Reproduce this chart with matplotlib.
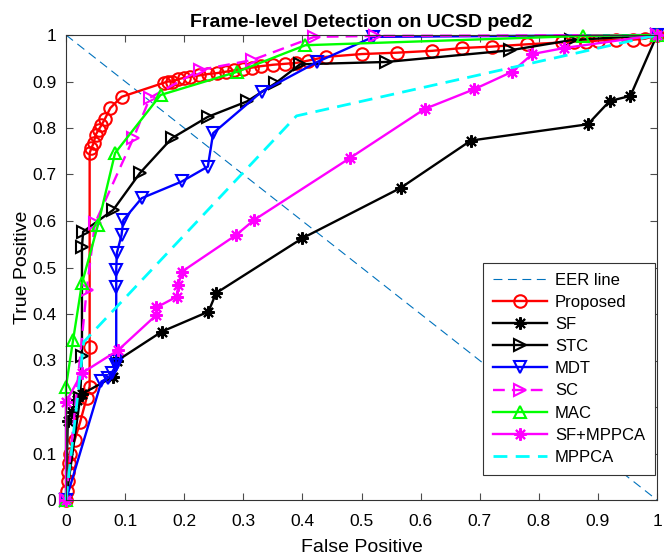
import numpy as np
import matplotlib.pyplot as plt

plt.rcParams['font.family'] = ['Liberation Sans', 'DejaVu Sans']

# ROC points (false positive, true positive)
proposed_fp = [0, 0.002, 0.003, 0.004, 0.005, 0.006, 0.015, 0.024, 0.035, 0.04, 0.04, 0.04,
               0.043, 0.047, 0.05, 0.055, 0.06, 0.066, 0.075, 0.094, 0.165, 0.172, 0.18, 0.19,
               0.2, 0.21, 0.225, 0.24, 0.255, 0.27, 0.285, 0.3, 0.315, 0.33, 0.35, 0.37, 0.39,
               0.41, 0.44, 0.5, 0.56, 0.62, 0.67, 0.72, 0.78, 0.84, 0.86, 0.88, 0.9, 0.93, 0.96,
               0.98, 1]
proposed_tp = [0, 0.02, 0.04, 0.06, 0.08, 0.1, 0.13, 0.168, 0.22, 0.244, 0.33, 0.746,
               0.757, 0.768, 0.785, 0.796, 0.806, 0.82, 0.843, 0.867, 0.897, 0.9, 0.9, 0.905,
               0.908, 0.91, 0.913, 0.916, 0.918, 0.921, 0.924, 0.927, 0.93, 0.933, 0.936, 0.938,
               0.94, 0.945, 0.953, 0.959, 0.962, 0.966, 0.972, 0.975, 0.98, 0.984, 0.986, 0.986,
               0.988, 0.99, 0.99, 0.992, 1]

sf_fp = [0, 0.003, 0.01, 0.018, 0.027, 0.08, 0.087, 0.162, 0.241, 0.254, 0.40, 0.566, 0.685,
         0.883, 0.92, 0.955, 1]
sf_tp = [0, 0.17, 0.19, 0.215, 0.228, 0.265, 0.3, 0.362, 0.405, 0.445, 0.563, 0.671, 0.773,
         0.808, 0.858, 0.869, 1]

stc_fp = [0, 0.024, 0.027, 0.027, 0.029, 0.08, 0.125, 0.179, 0.24, 0.306, 0.354, 0.396,
          0.542, 0.751, 0.855, 1]
stc_tp = [0, 0.22, 0.31, 0.545, 0.577, 0.624, 0.703, 0.778, 0.824, 0.857, 0.896, 0.937,
          0.942, 0.967, 0.989, 1]

mdt_fp = [0, 0.06, 0.071, 0.077, 0.085, 0.085, 0.085, 0.085, 0.086, 0.094, 0.097, 0.128,
          0.196, 0.24, 0.249, 0.331, 0.425, 0.52, 1]
mdt_tp = [0, 0.255, 0.262, 0.273, 0.29, 0.3, 0.459, 0.495, 0.531, 0.57, 0.602, 0.649,
          0.685, 0.717, 0.789, 0.878, 0.942, 0.996, 1]

sc_fp = [0, 0.035, 0.049, 0.114, 0.142, 0.227, 0.315, 0.42, 0.523, 1]
sc_tp = [0, 0.452, 0.595, 0.778, 0.865, 0.925, 0.946, 0.996, 0.998, 1]

mac_fp = [0, 0, 0.012, 0.027, 0.054, 0.083, 0.16, 0.29, 0.405, 0.875, 1]
mac_tp = [0, 0.244, 0.344, 0.466, 0.591, 0.746, 0.871, 0.921, 0.978, 0.998, 1]

sfmppca_fp = [0, 0, 0.027, 0.088, 0.153, 0.153, 0.187, 0.19, 0.196, 0.288, 0.318, 0.48,
              0.607, 0.69, 0.755, 0.789, 0.843, 1]
sfmppca_tp = [0, 0.211, 0.273, 0.322, 0.398, 0.414, 0.437, 0.462, 0.491, 0.57, 0.602, 0.735,
              0.841, 0.883, 0.921, 0.959, 0.972, 1]

mppca_fp = [0, 0.03, 0.39, 1]
mppca_tp = [0, 0.34, 0.826, 1]

ticks = np.arange(0, 1.01, 0.1)
tick_labels = ['0', '0.1', '0.2', '0.3', '0.4', '0.5', '0.6', '0.7', '0.8', '0.9', '1']

fig = plt.figure(figsize=(6.64, 5.58), dpi=100)
ax = fig.add_axes([66/664, 58/558, 591/664, 465/558])

lw = 1.7
ms = 9
star = (8, 2, 0)  # matlab-like asterisk
ax.plot([0, 1], [1, 0], color='#0072BD', lw=0.8, dashes=(8, 5), label='EER line')
ax.plot(proposed_fp, proposed_tp, '-o', color='r', lw=lw, ms=ms, mfc='none', mew=1.5, label='Proposed', clip_on=False)
ax.plot(sf_fp, sf_tp, '-', marker=star, color='k', lw=lw, ms=ms, mew=1.5, label='SF', clip_on=False)
ax.plot(stc_fp, stc_tp, '->', color='k', lw=lw, ms=ms, mfc='none', mew=1.5, label='STC', clip_on=False)
ax.plot(mdt_fp, mdt_tp, '-v', color='b', lw=lw, ms=ms, mfc='none', mew=1.5, label='MDT', clip_on=False)
ax.plot(sc_fp, sc_tp, '->', color='#FF00FF', lw=lw, ms=ms, mfc='none', mew=1.5, dashes=(5, 3), label='SC', clip_on=False)
ax.plot(mac_fp, mac_tp, '-^', color='#00FF00', lw=lw, ms=ms, mfc='none', mew=1.5, label='MAC', clip_on=False)
ax.plot(sfmppca_fp, sfmppca_tp, '-', marker=star, color='#FF00FF', lw=lw, ms=ms, mew=1.5, label='SF+MPPCA', clip_on=False)
ax.plot(mppca_fp, mppca_tp, '-', color='#00FFFF', lw=lw + 0.3, dashes=(5, 3), label='MPPCA', clip_on=False)

ax.set_xlim(0, 1)
ax.set_ylim(0, 1)
ax.set_xticks(ticks)
ax.set_yticks(ticks)
ax.set_xticklabels(tick_labels)
ax.set_yticklabels(tick_labels)
ax.tick_params(direction='in', top=True, right=True, labelsize=12.5, length=5, color='0.3', pad=7)
ax.tick_params(axis='x', pad=10)
for s in ax.spines.values():
    s.set_color('0.2')
    s.set_linewidth(0.8)

ax.set_xlabel('False Positive', fontsize=14, labelpad=7)
ax.set_ylabel('True Positive', fontsize=14, labelpad=1)
ax.set_title('Frame-level Detection on UCSD ped2', fontsize=14, fontweight='bold', pad=6)

leg = ax.legend(loc='lower right', bbox_to_anchor=(0.997, 0.054), borderaxespad=0,
                fontsize=12, handlelength=3.2, fancybox=False, framealpha=1,
                edgecolor='0.2', labelspacing=0.43, handletextpad=0.5, borderpad=0.6)
leg.get_frame().set_linewidth(0.8)

fig.savefig('out.png', dpi=100)
